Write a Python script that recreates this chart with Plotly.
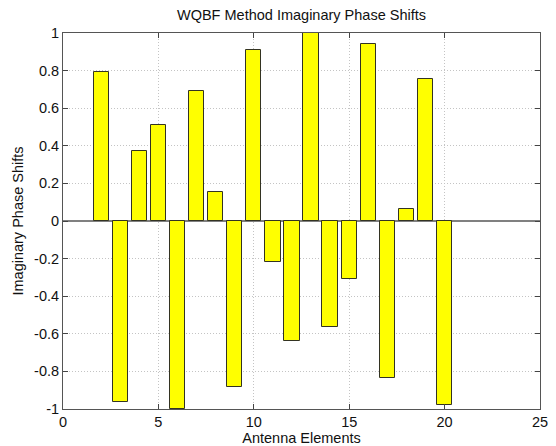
import plotly.graph_objects as go

elements = list(range(2, 21))
imag_shifts = [0.795, -0.965, 0.372, 0.513, -1.0, 0.692, 0.156, -0.882, 0.907,
               -0.22, -0.64, 1.0, -0.565, -0.31, 0.943, -0.835, 0.066, 0.754, -0.977]

y_tickvals = [1, 0.8, 0.6, 0.4, 0.2, 0, -0.2, -0.4, -0.6, -0.8, -1]
y_ticktext = ["1", "0.8", "0.6", "0.4", "0.2", "0", "-0.2", "-0.4", "-0.6", "-0.8", "-1"]
x_tickvals = [0, 5, 10, 15, 20, 25]

title_text = "WQBF Method Imaginary Phase Shifts"
x_title = "Antenna Elements"
y_title = "Imaginary Phase Shifts"

FONT = "Liberation Sans, Arial, sans-serif"
FS = 14.5

fig = go.Figure()
fig.add_trace(go.Bar(
    x=elements, y=imag_shifts, width=0.8,
    marker=dict(color="#ffff00", line=dict(color="#333322", width=1)),
    showlegend=False,
))

fig.update_layout(
    width=556, height=446,
    margin=dict(l=63, r=16, t=33, b=37),
    paper_bgcolor="white", plot_bgcolor="white",
    font=dict(family=FONT, size=FS, color="#111111"),
    title=dict(text=title_text, x=0.5, xref="paper", xanchor="center",
               y=1 - 15 / 446, yref="container", yanchor="middle",
               font=dict(size=FS, family=FONT, color="#111111")),
    bargap=0,
)

fig.update_xaxes(
    range=[0, 25], tickvals=x_tickvals, ticktext=[str(v) for v in x_tickvals],
    ticks="inside", ticklen=5, tickcolor="#444444",
    showline=True, linecolor="#555555", linewidth=1, mirror="ticks",
    showgrid=True, gridcolor="#c4c4c4", griddash="1px,2px", gridwidth=1,
    zeroline=False, automargin=False,
    title=dict(text=x_title, standoff=1, font=dict(size=FS)),
    tickfont=dict(size=FS),
)
fig.update_yaxes(
    range=[-1, 1], tickvals=y_tickvals, ticktext=y_ticktext,
    ticks="inside", ticklen=5, tickcolor="#444444",
    showline=True, linecolor="#555555", linewidth=1, mirror="ticks",
    showgrid=True, gridcolor="#c4c4c4", griddash="1px,2px", gridwidth=1,
    zeroline=True, zerolinecolor="#808080", zerolinewidth=1.5,
    automargin=False,
    title=dict(text=y_title, standoff=7, font=dict(size=FS)),
    tickfont=dict(size=FS),
    ticklabelstandoff=0,
)

fig.write_html("out.html")
